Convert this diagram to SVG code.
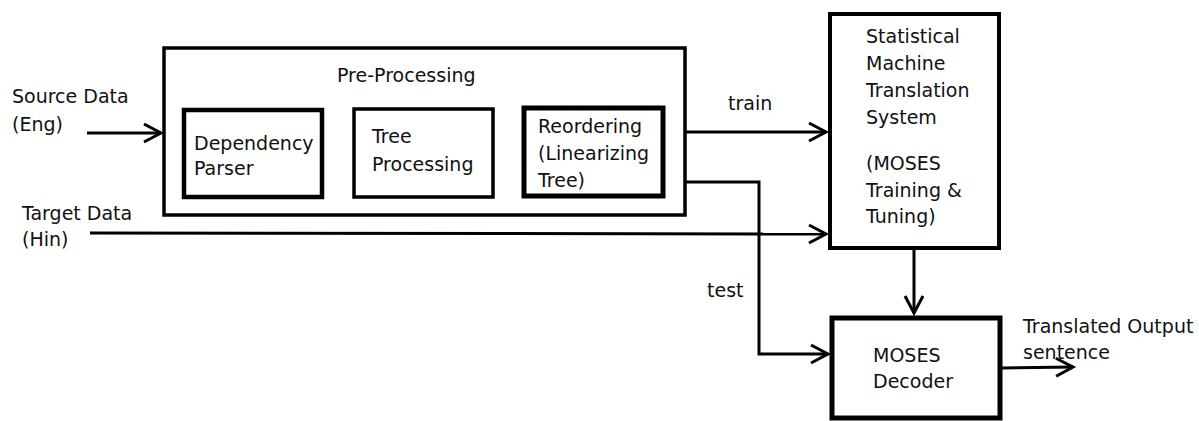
<svg xmlns="http://www.w3.org/2000/svg" width="1199" height="421" viewBox="0 0 1199 421">
<style>
text{font-family:"DejaVu Sans","Liberation Sans",sans-serif;font-size:19px;fill:#111}
.box{fill:#fff;stroke:#000}
.c{fill:none;stroke:#000;stroke-width:3}
</style>
<defs>
<marker id="arr" viewBox="-20 -12 24 24" markerWidth="24" markerHeight="24" refX="0" refY="0" orient="auto" markerUnits="userSpaceOnUse">
<path d="M-17,-9 L0,0 L-17,9" fill="none" stroke="#000" stroke-width="3"/>
</marker>
</defs>
<rect width="1199" height="421" fill="#fff"/>
<g id="preprocessing">
<rect class="box" x="164" y="48" width="521" height="167" stroke-width="3.5"/>
<text x="337" y="82">Pre-Processing</text>
</g>
<g id="dependency-parser">
<rect class="box" x="184" y="110" width="138" height="87" stroke-width="4.5"/>
<text x="194" y="150">Dependency</text>
<text x="194" y="175">Parser</text>
</g>
<g id="tree-processing">
<rect class="box" x="354" y="109" width="139" height="88" stroke-width="3.5"/>
<text x="372" y="143">Tree</text>
<text x="372" y="171">Processing</text>
</g>
<g id="reordering">
<rect class="box" x="524" y="108" width="139" height="88" stroke-width="5"/>
<text x="538" y="133">Reordering</text>
<text x="538" y="160">(Linearizing</text>
<text x="538" y="187">Tree)</text>
</g>
<g id="smt">
<rect class="box" x="830" y="14" width="169" height="234" stroke-width="4"/>
<text x="866" y="43">Statistical</text>
<text x="866" y="70">Machine</text>
<text x="866" y="97">Translation</text>
<text x="866" y="124">System</text>
<text x="866" y="170">(MOSES</text>
<text x="866" y="197">Training &amp;</text>
<text x="866" y="223">Tuning)</text>
</g>
<g id="decoder">
<rect class="box" x="832" y="318" width="168" height="100" stroke-width="5"/>
<text x="873" y="362">MOSES</text>
<text x="873" y="388">Decoder</text>
</g>
<g id="labels">
<text x="12" y="103">Source Data</text>
<text x="12" y="131">(Eng)</text>
<text x="22" y="220">Target Data</text>
<text x="22" y="246">(Hin)</text>
<text x="728" y="110">train</text>
<text x="707" y="297">test</text>
<text x="1023" y="333">Translated Output</text>
<text x="1023" y="359">sentence</text>
</g>
<g id="connectors">
<line class="c" x1="87" y1="133" x2="161" y2="133" marker-end="url(#arr)"/>
<line class="c" x1="90" y1="233" x2="826" y2="234" marker-end="url(#arr)"/>
<line class="c" x1="686" y1="132" x2="826" y2="132" marker-end="url(#arr)"/>
<polyline class="c" points="686,182 759,182 759,354 828,354" marker-end="url(#arr)"/>
<line class="c" x1="914" y1="250" x2="914" y2="313" marker-end="url(#arr)"/>
<line class="c" x1="1002" y1="368" x2="1073" y2="367" marker-end="url(#arr)"/>
</g>
</svg>
